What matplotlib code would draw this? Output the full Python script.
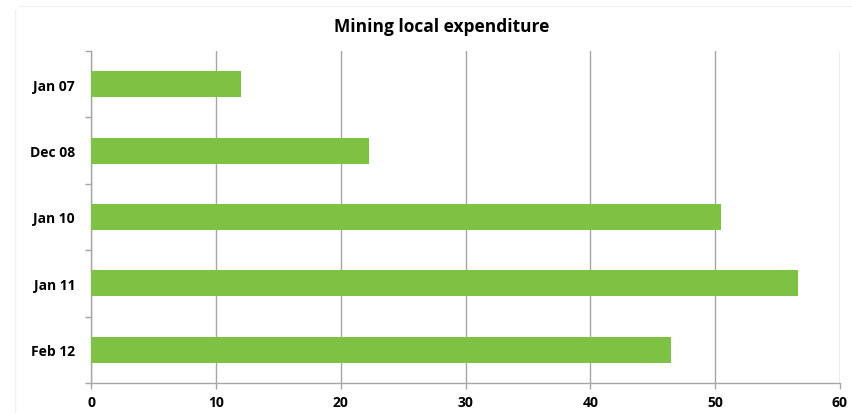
import numpy as np
import matplotlib.pyplot as plt
from matplotlib.lines import Line2D

# Mining local expenditure by period
periods = ['Jan 07', 'Dec 08', 'Jan 10', 'Jan 11', 'Feb 12']
values = [12.0, 22.3, 50.5, 56.6, 46.5]
xticks = [0, 10, 20, 30, 40, 50, 60]

plt.rcParams['font.family'] = ['Open Sans', 'DejaVu Sans']

fig = plt.figure(figsize=(8.52, 4.14), dpi=100)
ax = fig.add_axes([91 / 852, 1 - 384 / 414, (840 - 91) / 852, (384 - 52) / 414])

grid_col = '#a6a6a6'
pos = np.arange(len(periods))
ax.barh(pos, values, height=0.39, color='#7dc242', zorder=3)

ax.set_xlim(0, 60)
ax.set_ylim(len(periods) - 0.5, -0.5)
ax.set_xticks(xticks)
ax.set_xticklabels([str(t) for t in xticks], fontsize=10, fontweight='bold')
ax.set_yticks(pos)
ax.set_yticklabels(periods, fontsize=10, fontweight='bold')
ax.set_yticks(np.arange(-0.5, len(periods), 1), minor=True)

ax.tick_params(axis='y', which='major', length=0, pad=11.5)
ax.tick_params(axis='y', which='minor', length=4, color=grid_col, width=1)
ax.tick_params(axis='x', length=4, color=grid_col, width=1, pad=5)

ax.grid(axis='x', color=grid_col, linewidth=1, zorder=0)
for side in ['top', 'right']:
    ax.spines[side].set_visible(False)
for side in ['left', 'bottom']:
    ax.spines[side].set_color(grid_col)
    ax.spines[side].set_linewidth(1)

fig.text(442 / 852, 1 - 27 / 414, 'Mining local expenditure', ha='center', va='center',
         fontsize=12.5, fontweight='bold')

# faint frame edges at top and left of the chart area
fig.add_artist(Line2D([19 / 852, 1], [1 - 7 / 414] * 2, transform=fig.transFigure,
                      color='#f0f0f0', linewidth=1))
fig.add_artist(Line2D([15.5 / 852] * 2, [0, 1 - 11 / 414], transform=fig.transFigure,
                      color='#f0f0f0', linewidth=1))

fig.savefig('out.png', dpi=100)
